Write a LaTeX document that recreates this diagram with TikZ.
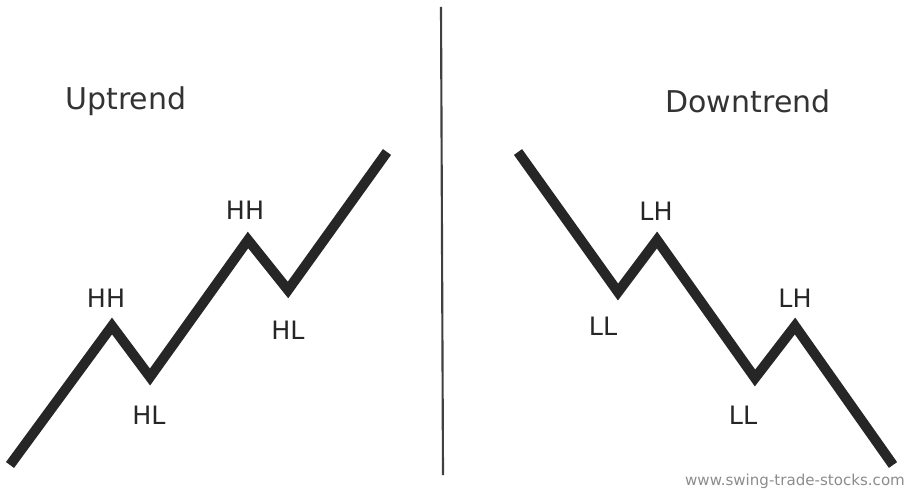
\documentclass[tikz,border=0pt]{standalone}
\usepackage{fontspec}
\setmainfont{DejaVu Sans}

\begin{document}
\begin{tikzpicture}[x=0.75pt,y=-0.75pt,
    trend/.style={line width=7.5pt, draw=black!85, line join=miter},
    title/.style={font=\fontsize{22.5}{27}\selectfont, text=black!80},
    pivot/.style={font=\fontsize{19}{22}\selectfont, text=black!85}]
  \useasboundingbox (0,0) rectangle (912,491);

  % Divider
  \draw[line width=1.6pt, black!75] (441,7) -- (443,475);

  % Uptrend
  \node[title] (up) at (126,101) {Uptrend};
  \coordinate (u0) at (10,465);
  \coordinate (u1) at (112,326);
  \coordinate (u2) at (150,377);
  \coordinate (u3) at (248,240);
  \coordinate (u4) at (288,290);
  \coordinate (u5) at (387,152);
  \draw[trend] (u0) -- (u1) -- (u2) -- (u3) -- (u4) -- (u5);
  \node[pivot] (hh1) at (106,298) {HH};
  \node[pivot] (hl1) at (149,415) {HL};
  \node[pivot] (hh2) at (245,210) {HH};
  \node[pivot] (hl2) at (288,330) {HL};

  % Downtrend
  \node[title] (down) at (748,101) {Downtrend};
  \coordinate (d0) at (518,152);
  \coordinate (d1) at (618,292);
  \coordinate (d2) at (657,240);
  \coordinate (d3) at (755,378);
  \coordinate (d4) at (795,326);
  \coordinate (d5) at (893,465);
  \draw[trend] (d0) -- (d1) -- (d2) -- (d3) -- (d4) -- (d5);
  \node[pivot] (lh1) at (656,211) {LH};
  \node[pivot] (ll1) at (603,326) {LL};
  \node[pivot] (ll2) at (743,415) {LL};
  \node[pivot] (lh2) at (795,298) {LH};

  % Source
  \node[font=\fontsize{11.3}{13}\selectfont, text=black!45] (src) at (795,481) {www.swing-trade-stocks.com};
\end{tikzpicture}
\end{document}
